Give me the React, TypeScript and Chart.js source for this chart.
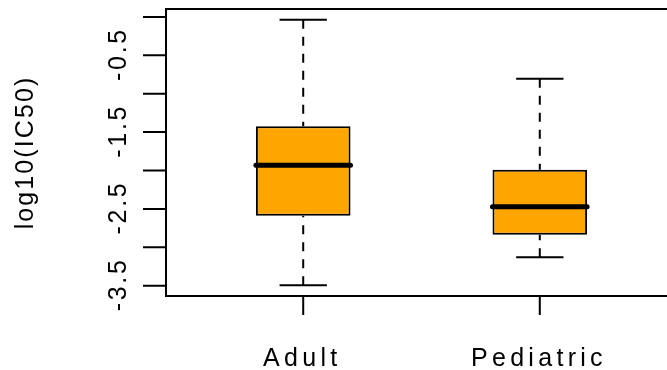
import React, { useEffect, useRef } from "react";
import { Chart, registerables } from "chart.js";

Chart.register(...registerables);

// Box-plot summaries of log10(IC50) per group
const groups = ["Adult", "Pediatric"];
const groupPos = [1, 2];
const whiskerLow = [-3.496, -3.131];
const boxLow = [-2.588, -2.836];
const medians = [-1.933, -2.471];
const boxHigh = [-1.425, -1.989];
const whiskerHigh = [-0.035, -0.804];

const yTicks = [0, -0.5, -1, -1.5, -2, -2.5, -3, -3.5];
const yTickLabels = ["", "-0.5", "", "-1.5", "", "-2.5", "", "-3.5"];
const yTitle = "log10(IC50)";

const BOX_WIDTH = 0.4; // in x-axis units
const CAP_WIDTH = 0.2;
const FONT = '25px "Liberation Sans", Arial, sans-serif';

// R-style 4% extension of the data range
const yLo = Math.min(...whiskerLow);
const yHi = Math.max(...whiskerHigh);
const yPad = 0.04 * (yHi - yLo);
const xLo = 0.5 - 0.04 * 2;
const xHi = 2.5 + 0.04 * 2;

function spacedText(
  ctx: CanvasRenderingContext2D,
  text: string,
  cx: number,
  y: number,
  spacing: number
) {
  ctx.letterSpacing = `${spacing}px`;
  const w = ctx.measureText(text).width - spacing;
  ctx.textAlign = "left";
  ctx.fillText(text, cx - w / 2, y);
  ctx.letterSpacing = "0px";
}

const boxExtras = {
  id: "boxExtras",
  beforeDatasetsDraw(chart: any) {
    const { ctx, scales } = chart;
    const xs = scales.x;
    const ys = scales.y;
    const unit = xs.getPixelForValue(1) - xs.getPixelForValue(0);
    ctx.save();
    ctx.strokeStyle = "#000";
    ctx.lineWidth = 2;
    groupPos.forEach((g, i) => {
      const x = xs.getPixelForValue(g);
      // dashed whiskers, drawn from the staple toward the box
      ctx.setLineDash([9, 8]);
      ctx.beginPath();
      ctx.moveTo(x, ys.getPixelForValue(whiskerHigh[i]));
      ctx.lineTo(x, ys.getPixelForValue(boxHigh[i]));
      ctx.moveTo(x, ys.getPixelForValue(whiskerLow[i]));
      ctx.lineTo(x, ys.getPixelForValue(boxLow[i]));
      ctx.stroke();
      // staples
      ctx.setLineDash([]);
      const half = (CAP_WIDTH / 2) * unit;
      ctx.beginPath();
      for (const v of [whiskerHigh[i], whiskerLow[i]]) {
        const y = ys.getPixelForValue(v);
        ctx.moveTo(x - half, y);
        ctx.lineTo(x + half, y);
      }
      ctx.stroke();
    });
    ctx.restore();
  },
  afterDatasetsDraw(chart: any) {
    const { ctx, scales } = chart;
    const xs = scales.x;
    const ys = scales.y;
    const unit = xs.getPixelForValue(1) - xs.getPixelForValue(0);
    ctx.save();
    ctx.strokeStyle = "#000";
    ctx.lineWidth = 5;
    ctx.lineCap = "round";
    groupPos.forEach((g, i) => {
      const x = xs.getPixelForValue(g);
      const half = (BOX_WIDTH / 2) * unit;
      const y = ys.getPixelForValue(medians[i]);
      ctx.beginPath();
      ctx.moveTo(x - half, y);
      ctx.lineTo(x + half, y);
      ctx.stroke();
    });
    ctx.restore();
  },
  afterDraw(chart: any) {
    const { ctx, scales, chartArea } = chart;
    const xs = scales.x;
    const ys = scales.y;
    ctx.save();
    ctx.strokeStyle = "#000";
    ctx.fillStyle = "#000";
    ctx.lineWidth = 2;
    ctx.lineCap = "butt";
    // plot frame
    ctx.strokeRect(
      chartArea.left,
      chartArea.top,
      chartArea.right - chartArea.left,
      chartArea.bottom - chartArea.top
    );
    // y axis ticks
    ctx.beginPath();
    yTicks.forEach((v) => {
      const y = ys.getPixelForValue(v);
      ctx.moveTo(chartArea.left - 23, y);
      ctx.lineTo(chartArea.left, y);
    });
    // x axis ticks
    groupPos.forEach((g) => {
      const x = xs.getPixelForValue(g);
      ctx.moveTo(x, chartArea.bottom);
      ctx.lineTo(x, chartArea.bottom + 19);
    });
    ctx.stroke();

    ctx.font = FONT;
    ctx.textBaseline = "alphabetic";
    // rotated y tick labels
    yTicks.forEach((v, i) => {
      if (!yTickLabels[i]) return;
      const y = ys.getPixelForValue(v);
      ctx.save();
      ctx.translate(126, y);
      ctx.rotate(-Math.PI / 2);
      spacedText(ctx, yTickLabels[i], 0, 0, 2.7);
      ctx.restore();
    });
    // x category labels
    groupPos.forEach((g, i) => {
      const x = xs.getPixelForValue(g);
      spacedText(ctx, groups[i], x - 3, 366, 4.3);
    });
    // y axis title
    ctx.save();
    ctx.translate(33, (chartArea.top + chartArea.bottom) / 2 + 1);
    ctx.rotate(-Math.PI / 2);
    spacedText(ctx, yTitle, 0, 0, 2.1);
    ctx.restore();
    ctx.restore();
  },
};

export default function App() {
  const canvasRef = useRef<HTMLCanvasElement | null>(null);

  useEffect(() => {
    const canvas = canvasRef.current;
    if (!canvas) return;
    const chart = new Chart(canvas, {
      type: "bar",
      data: {
        datasets: [
          {
            label: "IQR",
            data: groupPos.map((g, i) => ({ x: g, y: [boxLow[i], boxHigh[i]] })) as any,
            backgroundColor: "#FFA500",
            borderColor: "#000",
            borderWidth: 2,
            borderSkipped: false,
            barPercentage: BOX_WIDTH,
            categoryPercentage: 1,
          },
        ],
      },
      options: {
        responsive: false,
        animation: false,
        devicePixelRatio: 1,
        layout: { padding: { left: 166, top: 9, right: 23, bottom: 74 } },
        plugins: {
          legend: { display: false },
          tooltip: { enabled: false },
        },
        scales: {
          x: {
            type: "linear",
            display: false,
            min: xLo,
            max: xHi,
            offset: false,
            afterBuildTicks: (scale: any) => {
              scale.ticks = groupPos.map((v) => ({ value: v }));
            },
          },
          y: {
            type: "linear",
            display: false,
            min: yLo - yPad,
            max: yHi + yPad,
          },
        },
      },
      plugins: [boxExtras],
    });
    return () => chart.destroy();
  }, []);

  return (
    <div
      style={{
        position: "absolute",
        left: 0,
        top: 0,
        width: 667,
        height: 370,
        overflow: "hidden",
        background: "#fff",
      }}
    >
      <canvas ref={canvasRef} width={700} height={370} style={{ width: 700, height: 370 }} />
    </div>
  );
}
